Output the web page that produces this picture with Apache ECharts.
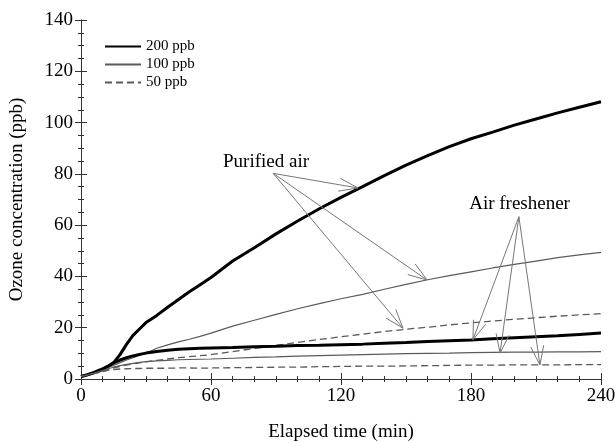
<!DOCTYPE html>
<html>
<head>
<meta charset="utf-8">
<script src="https://cdn.jsdelivr.net/npm/echarts@6/dist/echarts.min.js"></script>
<style>html,body{margin:0;padding:0;background:#fff}#c{width:615px;height:443px}</style>
</head>
<body>
<div id="c"></div>
<script>
// Elapsed time (min)
var times = [0,3,6,9,12,15,18,21,24,27,30,35,40,45,50,55,60,70,80,90,100,110,120,130,140,150,160,170,180,190,200,210,220,230,240];
// Purified air
var pur200 = [1,1.6,2.4,3.3,4.6,6.3,9.5,13.5,17,19.5,22,24.8,28,31,34,36.8,39.6,46,51.2,56.6,61.6,66.4,70.8,75,79.3,83.4,87.1,90.6,93.7,96.3,99,101.4,103.8,106,108.1];
var pur100 = [1,1.6,2.4,3.3,4.3,5.3,6.4,7.4,8.3,9.2,10,12,13.3,14.5,15.5,16.6,17.9,20.6,22.9,25.2,27.4,29.4,31.3,33,35,36.9,38.7,40.3,41.8,43.3,44.7,46,47.3,48.4,49.4];
var pur50  = [1,1.5,2.2,2.9,3.6,4.3,4.9,5.4,5.9,6.3,6.7,7.3,7.8,8.3,8.7,9.1,9.5,10.7,11.9,13.1,14.3,15.4,16.5,17.5,18.5,19.4,20.2,21.1,21.9,22.6,23.3,23.9,24.5,25,25.5];
// Air freshener
var fre200 = [1,1.7,2.6,3.6,4.8,6.3,7.4,8.3,9,9.6,10.1,10.7,11.2,11.6,11.8,12,12.1,12.3,12.6,12.8,13.1,13.2,13.4,13.6,13.9,14.2,14.6,14.9,15.2,15.7,16.1,16.5,16.9,17.4,17.9];
var fre100 = [1,1.6,2.3,3.1,3.9,4.6,5.2,5.7,6.1,6.5,6.8,7.1,7.3,7.5,7.6,7.7,7.8,8.1,8.4,8.6,8.9,9.1,9.3,9.5,9.7,9.9,10,10.1,10.3,10.4,10.5,10.5,10.6,10.6,10.7];
var fre50  = [1,1.5,2.1,2.7,3.3,3.7,3.9,4,4.1,4.1,4.2,4.2,4.2,4.3,4.3,4.2,4.3,4.4,4.5,4.6,4.6,4.8,4.9,5,5,5.1,5.2,5.3,5.4,5.4,5.5,5.5,5.5,5.6,5.6];
// Tick values / labels
var xTicks = {min:0, max:240, interval:60};
var yTicks = {min:0, max:140, interval:20};
var legendNames = ['200 ppb','100 ppb','50 ppb'];
// Annotations (data coordinates)
var purTail = [88.7, 80.2];
var purTips = [[127.8, 74.5],[159.7, 38.6],[148.6, 19.8]];
var freTail = [202.1, 63.3];
var freTips = [[180.9, 15.3],[193.4, 10.1],[211.8, 5.5]];
var labels = [{text:'Purified air', at:[85.4, 84.8]},{text:'Air freshener', at:[202.4, 68.3]}];

function pairs(v){ return times.map(function(t,i){ return [t, v[i]]; }); }

var FONT = "'Liberation Serif','Times New Roman',serif";

var arrowPairs = [];
purTips.forEach(function(p){ arrowPairs.push([purTail, p]); });
freTips.forEach(function(p){ arrowPairs.push([freTail, p]); });

var thick = {color:'#000', width:3, type:'solid'};
var thin = {color:'#5a5a5a', width:1.2, type:'solid'};
var dash = {color:'#5a5a5a', width:1.3, type:[7,4]};

function mk(name, vals, ls){
  return {type:'line', name:name, data:pairs(vals), showSymbol:false, symbol:'none',
    lineStyle:ls, itemStyle:{color:ls.color}, silent:true, z:3};
}

var series = [
  mk(legendNames[0], pur200, thick),
  mk(legendNames[1], pur100, thin),
  mk(legendNames[2], pur50, dash),
  mk(legendNames[0], fre200, thick),
  mk(legendNames[1], fre100, thin),
  mk(legendNames[2], fre50, dash)
];
function markLineData(extra){
  var d = arrowPairs.map(function(p){ return [{coord:p[0]},{coord:p[1]}]; });
  return d.concat(extra || []);
}
series[0].markLine = {
  silent:true, symbol:['none','none'],
  lineStyle:{color:'#777', width:1, type:'solid'}, label:{show:false},
  emphasis:{disabled:true}, data:markLineData([]), animation:false
};
series[0].markPoint = {
  silent:true, symbol:'circle', symbolSize:1, itemStyle:{color:'rgba(0,0,0,0)'},
  label:{show:true, position:'inside', color:'#000', fontFamily:FONT, fontSize:19},
  data: labels.map(function(l){ return {coord:l.at, value:l.text, label:{formatter:l.text}}; })
};

var axisLine = {show:true, lineStyle:{color:'#333', width:1}};
var option = {
  animation:false,
  backgroundColor:'#fff',
  grid:{left:81, right:14, top:20, bottom:64, containLabel:false, outerBoundsMode:'none'},
  legend:{
    data:legendNames, orient:'vertical', left:99, top:34,
    itemWidth:36, itemHeight:14, itemGap:3, itemStyle:{opacity:0},
    textStyle:{fontFamily:FONT, fontSize:15, color:'#000', lineHeight:14},
    selectedMode:false
  },
  xAxis:[
    {type:'value', position:'bottom', min:xTicks.min, max:xTicks.max, interval:xTicks.interval,
     name:'Elapsed time (min)', nameLocation:'middle', nameGap:44,
     nameTextStyle:{fontFamily:FONT, fontSize:19, color:'#000'},
     axisLine:axisLine, axisTick:{show:true, inside:false, length:6, lineStyle:{color:'#333'}},
     minorTick:{show:true, splitNumber:6, length:3, lineStyle:{color:'#333'}},
     axisLabel:{fontFamily:FONT, fontSize:19, color:'#000', margin:8},
     splitLine:{show:false}, minorSplitLine:{show:false}},
    {type:'value', position:'top', min:xTicks.min, max:xTicks.max, interval:xTicks.interval,
     axisLine:axisLine, axisTick:{show:true, inside:false, length:6, lineStyle:{color:'#333'}},
     minorTick:{show:true, splitNumber:6, length:3, lineStyle:{color:'#333'}},
     axisLabel:{show:false}, splitLine:{show:false}}
  ],
  yAxis:[
    {type:'value', position:'left', min:yTicks.min, max:yTicks.max, interval:yTicks.interval,
     name:'Ozone concentration (ppb)', nameLocation:'middle', nameGap:54, nameRotate:90,
     nameTextStyle:{fontFamily:FONT, fontSize:19, color:'#000'},
     axisLine:axisLine, axisTick:{show:true, inside:false, length:6, lineStyle:{color:'#333'}},
     minorTick:{show:true, splitNumber:4, length:3, lineStyle:{color:'#333'}},
     axisLabel:{fontFamily:FONT, fontSize:19, color:'#000', margin:8},
     splitLine:{show:false}},
    {type:'value', position:'right', min:yTicks.min, max:yTicks.max, interval:yTicks.interval,
     axisLine:axisLine, axisTick:{show:true, inside:false, length:6, lineStyle:{color:'#333'}},
     minorTick:{show:true, splitNumber:4, length:3, lineStyle:{color:'#333'}},
     axisLabel:{show:false}, splitLine:{show:false}}
  ],
  series:series
};
var chart = echarts.init(document.getElementById('c'), null, {renderer:'canvas'});
chart.setOption(option);

// Open "V" arrowheads: legs built through the chart's own scales
var finder = {xAxisIndex:0, yAxisIndex:0};
var HEAD_LEN = 20, HEAD_ANG = 19 * Math.PI / 180;
var legs = [];
arrowPairs.forEach(function(p){
  var a = chart.convertToPixel(finder, p[0]);
  var b = chart.convertToPixel(finder, p[1]);
  var dx = a[0]-b[0], dy = a[1]-b[1], L = Math.sqrt(dx*dx+dy*dy);
  var ux = dx/L, uy = dy/L;
  [HEAD_ANG, -HEAD_ANG].forEach(function(g){
    var rx = ux*Math.cos(g) - uy*Math.sin(g);
    var ry = ux*Math.sin(g) + uy*Math.cos(g);
    var end = chart.convertFromPixel(finder, [b[0]+HEAD_LEN*rx, b[1]+HEAD_LEN*ry]);
    legs.push([{coord:p[1]},{coord:end}]);
  });
});
option.series[0].markLine.data = markLineData(legs);
chart.setOption(option, true);
</script>
</body>
</html>
